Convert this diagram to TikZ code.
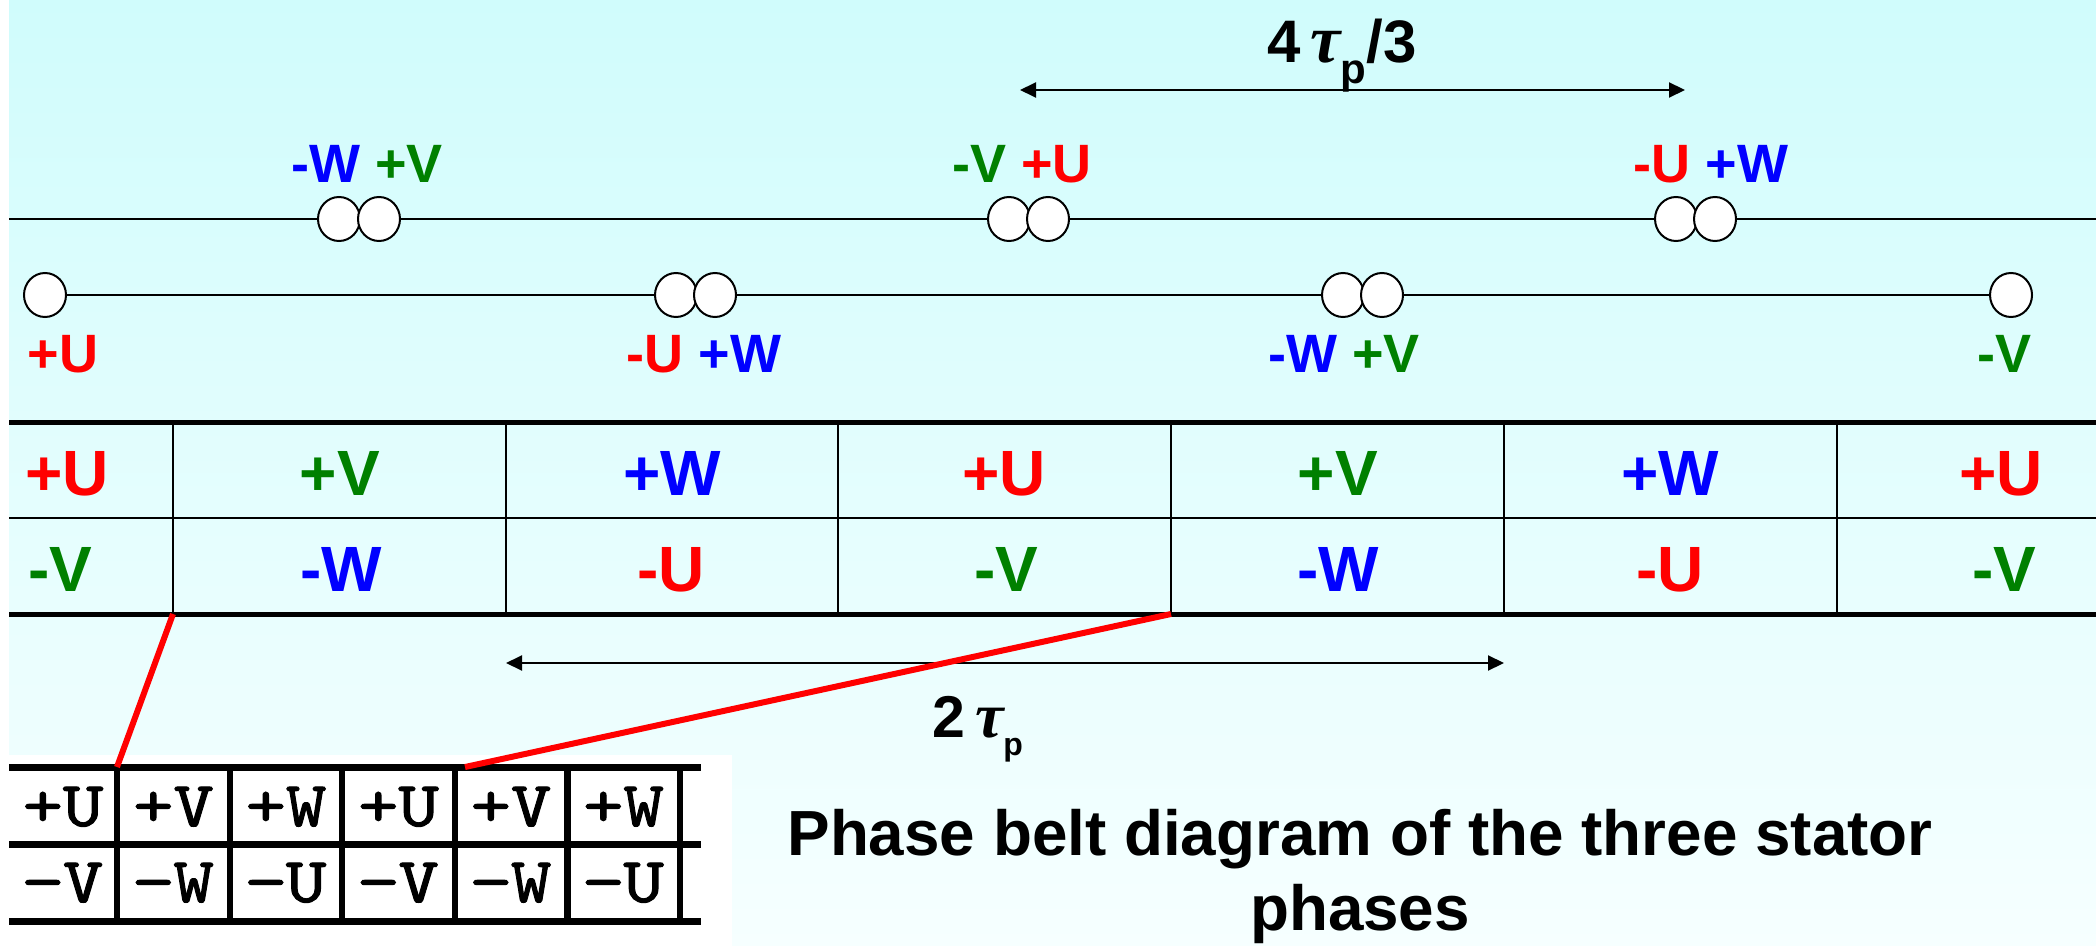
\documentclass[tikz,border=0pt]{standalone}
\usepackage{fontspec}
\setmainfont{Liberation Sans}
\newfontfamily\tauf{Liberation Serif}
\newfontfamily\monof[FakeBold=1.6,FakeStretch=1.2]{lmmono10-regular.otf}
\usetikzlibrary{arrows.meta,shapes.geometric}
\definecolor{pU}{RGB}{255,0,0}
\definecolor{pV}{RGB}{0,128,0}
\definecolor{pW}{RGB}{0,0,255}
\definecolor{bgtop}{RGB}{208,252,252}
\definecolor{bgbot}{RGB}{246,255,255}
\pgfdeclarelayer{back}
\pgfdeclarelayer{mid}
\pgfsetlayers{back,mid,main}
\newcommand{\tpbig}{4\,{\tauf\bfseries\itshape\fontsize{34}{36}\selectfont τ}\raisebox{-0.35em}{\fontsize{21}{24}\selectfont p}/3}
\newcommand{\tpsmall}{2\,{\tauf\bfseries\itshape\fontsize{32}{36}\selectfont τ}\raisebox{-0.32em}{\fontsize{16}{20}\selectfont p}}
\begin{document}
\begin{tikzpicture}[x=0.5pt,y=-0.5pt,
  slot/.style={ellipse,draw,line width=1pt,fill=white,minimum width=21pt,minimum height=22pt,inner sep=0pt},
  wire/.style={line width=1pt},
  dimarrow/.style={line width=1pt,{Triangle[length=8pt,width=7.5pt]}-{Triangle[length=8pt,width=7.5pt]}},
  clab/.style={font=\fontsize{27}{32}\selectfont\bfseries,inner sep=0pt,anchor=base},
  tlab/.style={font=\fontsize{32}{38}\selectfont\bfseries,inner sep=0pt,anchor=base},
  dimlab/.style={font=\fontsize{30}{34}\selectfont\bfseries,inner sep=0pt,anchor=base west},
  mlab/.style={font=\fontsize{32}{38}\selectfont\monof,inner sep=0pt,anchor=base},
  thick rule/.style={line width=2.5pt},
  mid rule/.style={line width=1.2pt},
  sep rule/.style={line width=1.3pt},
  srule/.style={line width=3.5pt},
  redlink/.style={pU,line width=3pt},
  caption/.style={font=\fontsize{31.9}{37.5}\selectfont\bfseries,inner sep=0pt,align=center}
]
\useasboundingbox (0,0) rectangle (2096,946);
\begin{pgfonlayer}{back}
  \shade[top color=bgtop,bottom color=bgbot] (9,0) rectangle (2096,946);
  \fill[white] (0,0) rectangle (9,946);
  \fill[white] (0,755) rectangle (732,946);
\end{pgfonlayer}

% upper line with slot pairs
\coordinate (uL) at (9,219);
\coordinate (uR) at (2096,219);
\begin{pgfonlayer}{mid}
  \draw[wire] (uL) -- (uR);
\end{pgfonlayer}
\node[slot] (u1a) at (339,219) {};
\node[slot] (u1b) at (379,219) {};
\node[slot] (u2a) at (1009,219) {};
\node[slot] (u2b) at (1048,219) {};
\node[slot] (u3a) at (1676,219) {};
\node[slot] (u3b) at (1715,219) {};

% lower line
\node[slot] (l0) at (45,295) {};
\node[slot] (l1a) at (676,295) {};
\node[slot] (l1b) at (715,295) {};
\node[slot] (l2a) at (1343,295) {};
\node[slot] (l2b) at (1382,295) {};
\node[slot] (l3) at (2011,295) {};
\begin{pgfonlayer}{mid}
  \draw[wire] (l0.center) -- (l3.center);
\end{pgfonlayer}

% slot labels
\node[clab] (tu1) at (367,183) {\textcolor{pW}{-W} \textcolor{pV}{+V}};
\node[clab] (tu2) at (1022,183) {\textcolor{pV}{-V} \textcolor{pU}{+U}};
\node[clab] (tu3) at (1711,183) {\textcolor{pU}{-U} \textcolor{pW}{+W}};
\node[clab] (tl0) at (63,372) {\textcolor{pU}{+U}};
\node[clab] (tl1) at (704,372) {\textcolor{pU}{-U} \textcolor{pW}{+W}};
\node[clab] (tl2) at (1344,372) {\textcolor{pW}{-W} \textcolor{pV}{+V}};
\node[clab] (tl3) at (2004,372) {\textcolor{pV}{-V}};

% 4tau/3 dimension
\coordinate (a1) at (1020,90);
\coordinate (a2) at (1685,90);
\draw[dimarrow] (a1) -- (a2);
\node[dimlab] (lab43) at (1267,63) {\tpbig};

% big table
\draw[thick rule] (9,422) -- (2096,422);
\draw[mid rule] (9,518) -- (2096,518);
\draw[thick rule] (9,614) -- (2096,614);
\foreach \x [count=\i] in {173,506,838,1171,1504,1837}
  \draw[sep rule] (\x,422) -- (\x,614) coordinate (bv\i);
\foreach \x/\c/\t [count=\i] in {67/pU/+U,340/pV/+V,672/pW/+W,1004/pU/+U,1338/pV/+V,1670/pW/+W,2001/pU/+U}
  \node[tlab,text=\c] (top\i) at (\x,495) {\t};
\foreach \x/\c/\t [count=\i] in {60/pV/-V,341/pW/-W,671/pU/-U,1006/pV/-V,1338/pW/-W,1670/pU/-U,2004/pV/-V}
  \node[tlab,text=\c] (bot\i) at (\x,591) {\t};

% 2tau dimension
\coordinate (b1) at (506,663);
\coordinate (b2) at (1504,663);
\draw[dimarrow] (b1) -- (b2);
\node[dimlab,font=\fontsize{29.5}{34}\selectfont\bfseries] (lab2) at (932,737) {\tpsmall};

% small table
\draw[srule] (9,767) -- (701,767);
\draw[srule] (9,844.5) -- (701,844.5);
\draw[srule] (9,921.5) -- (701,921.5);
\foreach \x [count=\i] in {117,230,342,455,567.5,680}
  \draw[line width=3.2pt] (\x,767) coordinate (sv\i) -- (\x,921.5);
\foreach \x/\t [count=\i] in {63/+U,173.5/+V,286/+W,398.5/+U,511/+V,623.5/+W}
  \node[mlab] (sa\i) at (\x,826) {\t};
\foreach \x/\t [count=\i] in {63/−V,173.5/−W,286/−U,398.5/−V,511/−W,623.5/−U}
  \node[mlab] (sb\i) at (\x,902) {\t};

% red zoom links
\draw[redlink] (bv1) -- (sv1);
\draw[redlink] (bv4) -- ([xshift=5pt]sv4);

% caption
\node[caption] (cap) at (1360,876) {Phase belt diagram of the three stator\\phases};
\end{tikzpicture}
\end{document}
